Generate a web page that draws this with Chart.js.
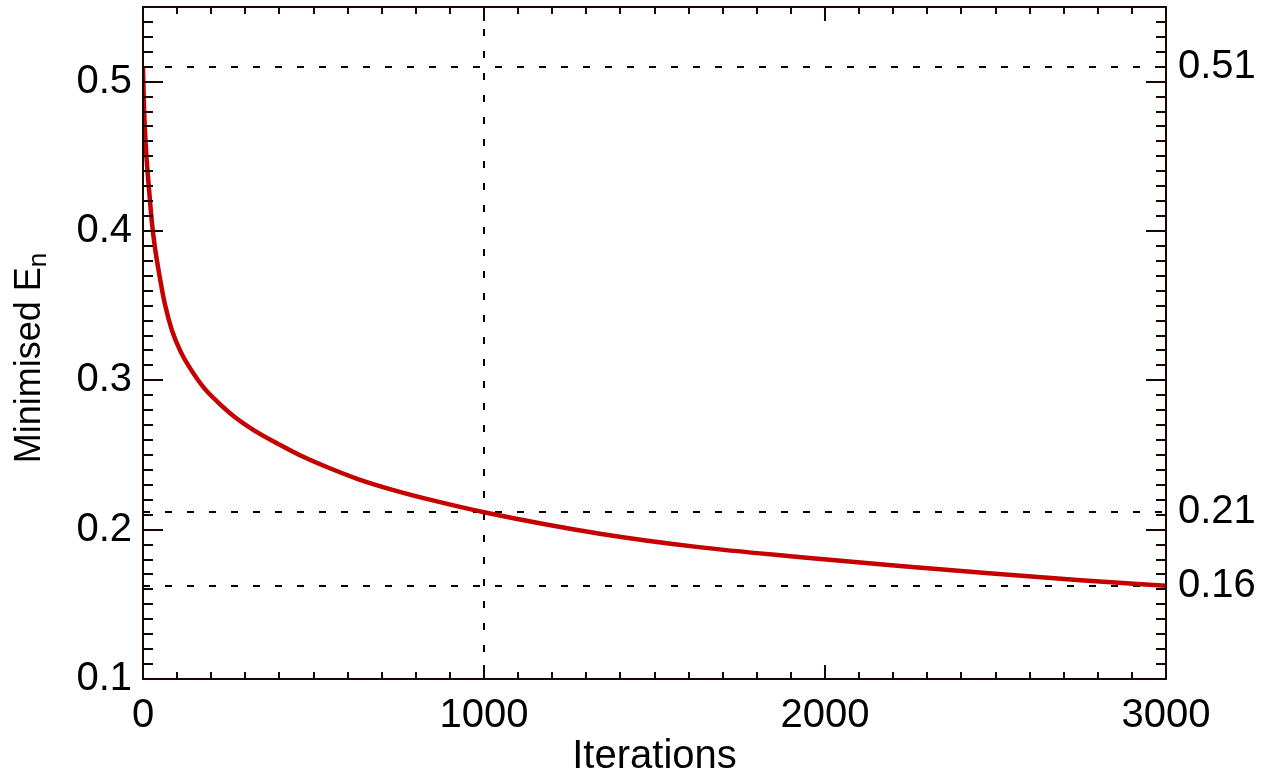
<!DOCTYPE html>
<html>
<head>
<meta charset="utf-8">
<title>Minimised En vs Iterations</title>
<script src="https://cdn.jsdelivr.net/npm/chart.js@4.4.1/dist/chart.umd.min.js"></script>
<style>
  html, body { margin: 0; padding: 0; background: #fff; }
  #wrap { width: 1265px; height: 778px; }
</style>
</head>
<body>
<div id="wrap"><canvas id="chart" width="1265" height="778"></canvas></div>
<script>
// datos
const iterations = [0, 3, 9, 18, 26, 35, 50, 65, 85, 110, 144, 180, 220, 270, 328, 402, 470, 548, 630, 724, 850, 1000, 1340, 1630, 1930, 2220, 2500, 2750, 3000];
const energy = [0.5094, 0.482, 0.454, 0.427, 0.406, 0.389, 0.368, 0.3502, 0.3334, 0.3194, 0.306, 0.2946, 0.2853, 0.2753, 0.2662, 0.2568, 0.2488, 0.2411, 0.2339, 0.2272, 0.2196, 0.2117, 0.1973, 0.1883, 0.1816, 0.1756, 0.1705, 0.1662, 0.1624];

const xTicks = [0, 1000, 2000, 3000];
const yTicks = [0.1, 0.2, 0.3, 0.4, 0.5];
const yTickLabels = ["0.1", "0.2", "0.3", "0.4", "0.5"];
const refValues = [0.5096, 0.2117, 0.1624];
const refLabels = ["0.51", "0.21", "0.16"];
const refIteration = 1000;

const X_MIN = 0, X_MAX = 3000, Y_MIN = 0.1, Y_MAX = 0.55;
const X_MINOR = 100, Y_MINOR = 0.01;

const FONT = "'Liberation Sans', Arial, Helvetica, sans-serif";
const INK = "#000";
const AXIS = "#1a0505";

// sin relleno extra arriba/abajo por las etiquetas
function fixPadding(s) {
  s.paddingTop = 0;
  s.paddingBottom = 0;
}

// marco estilo IDL con ticks hacia adentro
const idlFrame = {
  id: "idlFrame",
  afterDatasetsDraw(chart) {
    const { ctx, chartArea: a, scales } = chart;
    const x = scales.x, y = scales.y;
    ctx.save();
    ctx.strokeStyle = AXIS;
    ctx.lineWidth = 2;
    ctx.strokeRect(a.left, a.top, a.right - a.left, a.bottom - a.top);
    ctx.beginPath();
    const nx = Math.round((X_MAX - X_MIN) / X_MINOR);
    for (let i = 0; i <= nx; i++) {
      const v = X_MIN + i * X_MINOR;
      const px = Math.round(x.getPixelForValue(v));
      const len = xTicks.includes(v) ? 14 : 7;
      ctx.moveTo(px, a.bottom); ctx.lineTo(px, a.bottom - len);
      ctx.moveTo(px, a.top); ctx.lineTo(px, a.top + len);
    }
    const ny = Math.round((Y_MAX - Y_MIN) / Y_MINOR);
    for (let i = 0; i <= ny; i++) {
      const v = Y_MIN + i * Y_MINOR;
      const py = Math.round(y.getPixelForValue(v));
      const len = i % 10 === 0 ? 20 : 10;
      ctx.moveTo(a.left, py); ctx.lineTo(a.left + len, py);
      ctx.moveTo(a.right, py); ctx.lineTo(a.right - len, py);
    }
    ctx.stroke();
    ctx.restore();
  },
  afterDraw(chart) {
    const { ctx, chartArea: a } = chart;
    ctx.save();
    ctx.fillStyle = INK;
    ctx.textBaseline = "middle";
    ctx.textAlign = "center";
    ctx.font = "40px " + FONT;
    ctx.fillText("Iterations", (a.left + a.right) / 2, 757);

    // titulo eje y con subindice
    ctx.translate(30, 358);
    ctx.rotate(-Math.PI / 2);
    const main = "Minimised E";
    ctx.font = "36px " + FONT;
    const wMain = ctx.measureText(main).width;
    ctx.font = "26px " + FONT;
    const wSub = ctx.measureText("n").width;
    const start = -(wMain + wSub) / 2;
    ctx.textAlign = "left";
    ctx.font = "36px " + FONT;
    ctx.fillText(main, start, 0);
    ctx.font = "26px " + FONT;
    ctx.fillText("n", start + wMain, 9);
    ctx.restore();
  },
};

new Chart(document.getElementById("chart").getContext("2d"), {
  type: "line",
  data: {
    datasets: [
      {
        data: iterations.map((it, i) => ({ x: it, y: energy[i] })),
        borderColor: "#c40000",
        borderWidth: 4.5,
        pointRadius: 0,
        cubicInterpolationMode: "monotone",
        fill: false,
      },
    ],
  },
  options: {
    responsive: false,
    animation: false,
    layout: { padding: { top: 7, left: 0, right: 0, bottom: 0 } },
    plugins: {
      legend: { display: false },
      tooltip: { enabled: false },
    },
    scales: {
      x: {
        type: "linear",
        position: "bottom",
        min: X_MIN,
        max: X_MAX,
        afterBuildTicks: (s) => { s.ticks = xTicks.map((v) => ({ value: v })); },
        afterFit: (s) => { s.height = 99; },
        grid: {
          drawTicks: false,
          lineWidth: 2,
          color: (c) => (c.tick && c.tick.value === refIteration ? "#000" : "rgba(0,0,0,0)"),
        },
        border: { display: false, dash: [7, 15] },
        ticks: {
          font: { family: FONT, size: 40 },
          color: INK,
          padding: 13,
          autoSkip: false,
          maxRotation: 0,
          callback: (v) => String(v),
        },
      },
      y: {
        type: "linear",
        position: "left",
        min: Y_MIN,
        max: Y_MAX,
        afterBuildTicks: (s) => { s.ticks = yTicks.map((v) => ({ value: v })); },
        afterFit: (s) => { s.width = 143; fixPadding(s); },
        grid: { display: false, drawTicks: false },
        border: { display: false },
        ticks: {
          font: { family: FONT, size: 40 },
          color: INK,
          padding: 11,
          autoSkip: false,
          callback: (v, i) => yTickLabels[i],
        },
      },
      y2: {
        type: "linear",
        position: "right",
        min: Y_MIN,
        max: Y_MAX,
        afterBuildTicks: (s) => { s.ticks = refValues.map((v) => ({ value: v })); },
        afterFit: (s) => { s.width = 99; fixPadding(s); },
        grid: { drawTicks: false, lineWidth: 2, color: "#000" },
        border: { display: false, dash: [7, 15] },
        ticks: {
          font: { family: FONT, size: 40 },
          color: INK,
          padding: 12,
          autoSkip: false,
          callback: (v, i) => refLabels[i],
        },
      },
    },
  },
  plugins: [idlFrame],
});
</script>
</body>
</html>
